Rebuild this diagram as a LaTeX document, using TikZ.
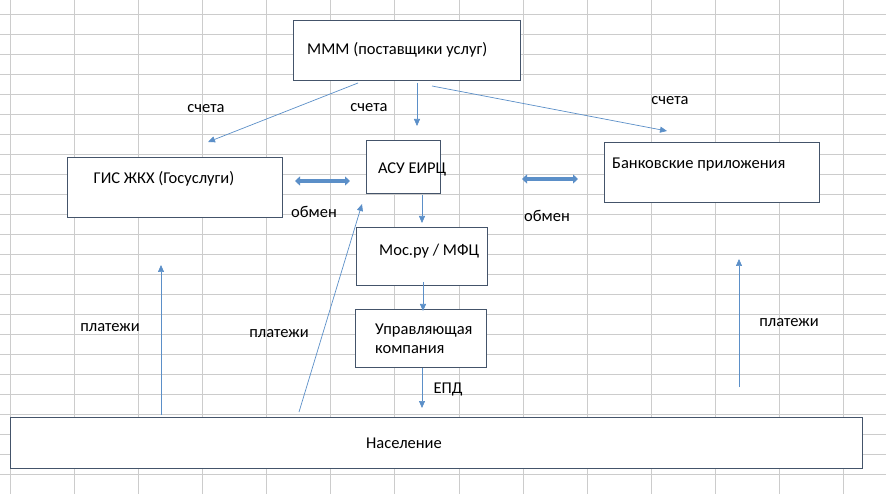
\documentclass[tikz,border=0pt]{standalone}
\usepackage{fontspec}
\setmainfont{Carlito}
\usetikzlibrary{arrows.meta}
\begin{document}
\begin{tikzpicture}[x=1pt,y=-1pt,
  box/.style={draw=boxc,line width=0.9pt},
  txt/.style={font=\fontsize{16.5}{19}\selectfont,inner sep=0pt},
  arr/.style={draw=arrowc,line width=0.7pt,-{Triangle[length=7pt,width=6pt]}},
  dbl/.style={draw=arrowc,line width=3.5pt,{Triangle[length=5pt,width=9pt]}-{Triangle[length=5pt,width=9pt]}}]
\definecolor{arrowc}{HTML}{5B8FC8}
\definecolor{boxc}{HTML}{44546A}
\useasboundingbox (0,0) rectangle (886,494);
\fill[white] (0,0) rectangle (886,494);
\foreach \x in {10,74,138,202,266,330,394,459,523,587,651,715,779,843} \draw[black!20,line width=0.8pt] (\x,0) -- (\x,494);
\foreach \y in {14,34,...,494} \draw[black!20,line width=0.8pt] (0,\y) -- (886,\y);
% boxes
\draw[box,fill=white] (293,20) rectangle (520,80); \node[txt,anchor=west] (mmm) at (307,50) {МММ (поставщики услуг)};
\draw[box,fill=white] (67,157) rectangle (282,217); \node[txt] (gis) at (164,179) {ГИС ЖКХ (Госуслуги)};
\draw[box,fill=white] (366,140) rectangle (440,193); \node[txt,anchor=west] (asu) at (378,169) {АСУ ЕИРЦ};
\draw[box,fill=white] (604,142) rectangle (819,202); \node[txt,anchor=west] (bank) at (612,165) {Банковские приложения};
\draw[box,fill=white] (356,227) rectangle (487,285); \node[txt,anchor=west] (mos) at (379,251) {Мос.ру / МФЦ};
\draw[box,fill=white] (355,309) rectangle (486,367); \node[txt,anchor=west,align=left] (uk) at (375,339) {Управляющая\\компания};
\draw[box,fill=white] (10,417) rectangle (862,468); \node[txt] (nas) at (404,443) {Население};
% coordinates
\coordinate (a1) at (358,83); \coordinate (b1) at (208,142);
\coordinate (a2) at (417,83); \coordinate (b2) at (417,126);
\coordinate (a3) at (432,86); \coordinate (b3) at (667,131);
\coordinate (a4) at (422,195); \coordinate (b4) at (422,223);
\coordinate (a5) at (423,282); \coordinate (b5) at (423,311);
\coordinate (a6) at (422,368); \coordinate (b6) at (422,408);
\coordinate (a7) at (161,415); \coordinate (b7) at (161,265);
\coordinate (a8) at (299,412); \coordinate (b8) at (362,204);
\coordinate (a9) at (739,387); \coordinate (b9) at (739,259);
\coordinate (d1) at (295,181); \coordinate (e1) at (350,181);
\coordinate (d2) at (522,179); \coordinate (e2) at (578,179);
\foreach \i in {1,...,9} \draw[arr] (a\i) -- (b\i);
\draw[dbl] (d1) -- (e1);
\draw[dbl] (d2) -- (e2);
% labels
\node[txt] (l1) at (206,109) {счета};
\node[txt] (l2) at (369,108) {счета};
\node[txt] (l3) at (670,101) {счета};
\node[txt] (l4) at (314,212) {обмен};
\node[txt] (l5) at (547,216) {обмен};
\node[txt] (l6) at (110,328) {платежи};
\node[txt] (l7) at (279,334) {платежи};
\node[txt] (l8) at (789,323) {платежи};
\node[txt] (l9) at (448,389) {ЕПД};
\end{tikzpicture}
\end{document}
